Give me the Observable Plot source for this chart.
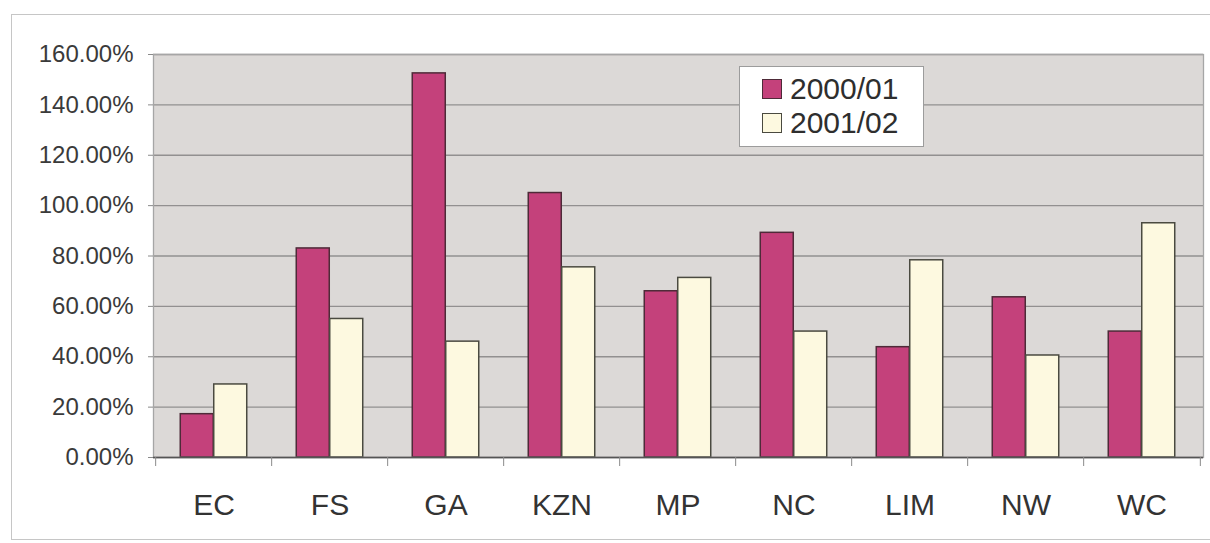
<!DOCTYPE html>
<html>
<head>
<meta charset="utf-8">
<script src="https://cdn.jsdelivr.net/npm/d3@7"></script>
<script src="https://cdn.jsdelivr.net/npm/@observablehq/plot@0.6"></script>
<style>
  html, body { margin: 0; padding: 0; background: #ffffff; }
  #wrap { position: relative; width: 1210px; height: 543px; overflow: hidden; font-family: "Liberation Sans", Arial, sans-serif; }
  #outline { position: absolute; left: 11px; top: 14px; width: 1210px; height: 526px; border: 1.5px solid #c6c6c6; box-sizing: border-box; }
  #chart { position: absolute; left: 0; top: 0; }
  #legend { position: absolute; left: 739px; top: 66px; width: 185px; height: 81px; background: #ffffff; border: 1px solid #9c9c9c; box-sizing: border-box; }
  .item { position: absolute; left: 22px; height: 34px; display: flex; align-items: center; font-size: 30px; color: #2e2e2e; line-height: 1; }
  .swatch { width: 20px; height: 20px; border: 1.3px solid #4a4040; box-sizing: border-box; margin-right: 8px; }
</style>
</head>
<body>
<div id="wrap">
  <div id="outline"></div>
  <div id="chart"></div>
  <div id="legend"></div>
</div>
<script>
// Provinces along the x axis
const regions = ["EC", "FS", "GA", "KZN", "MP", "NC", "LIM", "NW", "WC"];
// Series names and their values (percent)
const seriesNames = ["2000/01", "2001/02"];
const values2000 = [17.2, 83.0, 152.5, 105.0, 66.0, 89.2, 43.8, 63.6, 50.0];
const values2001 = [29.0, 55.0, 46.0, 75.5, 71.3, 50.0, 78.3, 40.5, 93.0];
// Y tick values
const yTicks = [0, 20, 40, 60, 80, 100, 120, 140, 160];

const colors = ["#c4417b", "#fdf9e0"];
const strokes = ["#4e2a38", "#4a4a40"];

const W = 1210, H = 543;
const mL = 153, mR = 7, mT = 54, mB = 86;
const step = (W - mL - mR) / regions.length;
const pad = 0.713;
const band = step * (1 - pad);

const rows = [values2000, values2001].map((vals, s) =>
  regions.map((r, i) => ({region: r, series: seriesNames[s], value: vals[i]}))
);

const chart = Plot.plot({
  width: W,
  height: H,
  marginLeft: mL,
  marginRight: mR,
  marginTop: mT,
  marginBottom: mB,
  style: {fontFamily: "'Liberation Sans', Arial, sans-serif", color: "#333333", background: "transparent", overflow: "visible"},
  x: {domain: regions, paddingInner: pad, paddingOuter: pad / 2, label: null},
  y: {domain: [0, 160], label: null},
  marks: [
    Plot.frame({fill: "#dcd9d7", stroke: null}),
    Plot.gridY(yTicks, {stroke: "#929090", strokeOpacity: 1, strokeWidth: 1.3}),
    ...rows.map((data, s) =>
      Plot.barY(data, {
        x: "region",
        y: "value",
        fill: colors[s],
        stroke: strokes[s],
        strokeWidth: 1.5,
        dx: (s === 0 ? -1 : 1) * band / 2
      })
    ),
    Plot.frame({stroke: "#a6a6a6", strokeWidth: 1.3}),
    Plot.ruleY([0], {stroke: "#555555", strokeWidth: 1.4}),
    // category boundary ticks below the baseline
    Plot.ruleX(regions, {x: (d) => d, y1: 0, y2: 0, insetBottom: -9, dx: -step / 2, stroke: "#8a8a8a"}),
    Plot.ruleX(regions.slice(-1), {x: (d) => d, y1: 0, y2: 0, insetBottom: -9, dx: step / 2, stroke: "#8a8a8a"}),
    Plot.axisY(yTicks, {
      tickFormat: (d) => d.toFixed(2) + "%",
      tickSize: 5,
      tickPadding: 15,
      fontSize: 24,
      stroke: "#8a8a8a",
      fill: "#3a3a3a"
    }),
    Plot.axisX({tickSize: 0, tickPadding: 36, fontSize: 30, fill: "#333333"})
  ]
});
document.getElementById("chart").appendChild(chart);

// Legend
const legend = document.getElementById("legend");
seriesNames.forEach((name, s) => {
  const item = document.createElement("div");
  item.className = "item";
  item.style.top = (5 + s * 34) + "px";
  const sw = document.createElement("div");
  sw.className = "swatch";
  sw.style.background = colors[s];
  sw.style.borderColor = strokes[s];
  const label = document.createElement("span");
  label.textContent = name;
  item.appendChild(sw);
  item.appendChild(label);
  legend.appendChild(item);
});
</script>
</body>
</html>
